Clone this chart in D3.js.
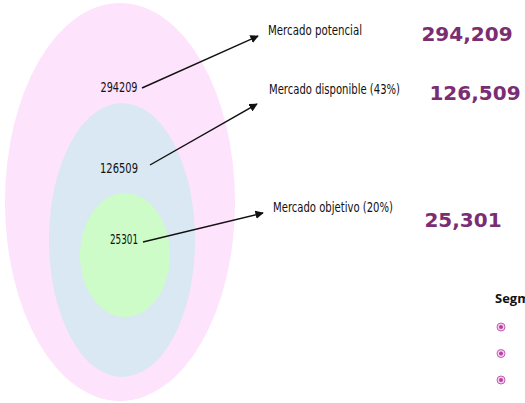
<!DOCTYPE html>
<html>
<head>
<meta charset="utf-8">
<script src="https://cdn.jsdelivr.net/npm/d3@7"></script>
<style>
  body { margin: 0; background: #fff; }
  svg { display: block; }
</style>
</head>
<body>
<svg id="chart"></svg>
<script>
const width = 525;
const height = 403;

// data
const levels = ["Mercado potencial", "Mercado disponible (43%)", "Mercado objetivo (20%)"];
const values = [294209, 126509, 25301];
const bulletCount = 3;
const sideTitle = "Segmento";

// layout (ellipses from outer to inner)
const rings = [
    {cx: 120, cy: 202, rx: 115, ry: 199, fill: "#fde3fc"},
    {cx: 122, cy: 240, rx: 73, ry: 137, fill: "#d9e8f2"},
    {cx: 125, cy: 255, rx: 45, ry: 62, fill: "#cdfcc8"}
];
const innerLabelPos = [[119, 87], [119, 168], [124, 239]];
const innerLen = [37, 38, 28];
const arrowFrom = [[142, 88], [150, 165], [143, 242]];
const arrowTo = [[258, 36], [257, 104], [263, 213]];
const labelPos = [[268, 30], [269, 89], [273, 207]];
const labelLen = [94, 131, 120];
const bigPos = [[467, 34], [475, 93], [463, 220]];

const svg = d3.select("#chart").attr("width", width).attr("height", height);

svg.append("defs").append("marker")
    .attr("id", "head")
    .attr("viewBox", "0 0 10 10")
    .attr("refX", 9).attr("refY", 5)
    .attr("markerWidth", 6).attr("markerHeight", 6)
    .attr("orient", "auto")
    .append("path")
    .attr("d", "M0,0L10,5L0,10z")
    .attr("fill", "#111");

svg.selectAll(".ring")
    .data(rings)
    .join("ellipse")
    .attr("class", "ring")
    .attr("cx", d => d.cx).attr("cy", d => d.cy)
    .attr("rx", d => d.rx).attr("ry", d => d.ry)
    .attr("fill", d => d.fill);

svg.selectAll(".inner")
    .data(values)
    .join("text")
    .attr("class", "inner")
    .attr("x", (d, i) => innerLabelPos[i][0] - innerLen[i] / 2)
    .attr("y", (d, i) => innerLabelPos[i][1])
    .attr("dy", "0.35em")
    .attr("font-family", "Liberation Sans Narrow, DejaVu Sans Condensed, sans-serif")
    .attr("font-size", 14)
    .attr("textLength", (d, i) => innerLen[i])
    .attr("lengthAdjust", "spacingAndGlyphs")
    .attr("fill", "#111")
    .text(d => d);

svg.selectAll(".arrow")
    .data(values)
    .join("line")
    .attr("class", "arrow")
    .attr("x1", (d, i) => arrowFrom[i][0]).attr("y1", (d, i) => arrowFrom[i][1])
    .attr("x2", (d, i) => arrowTo[i][0]).attr("y2", (d, i) => arrowTo[i][1])
    .attr("stroke", "#111")
    .attr("stroke-width", 1.4)
    .attr("marker-end", "url(#head)");

svg.selectAll(".label")
    .data(levels)
    .join("text")
    .attr("class", "label")
    .attr("x", (d, i) => labelPos[i][0])
    .attr("y", (d, i) => labelPos[i][1])
    .attr("dy", "0.35em")
    .attr("font-family", "Liberation Sans Narrow, DejaVu Sans Condensed, sans-serif")
    .attr("font-size", 14)
    .attr("textLength", (d, i) => labelLen[i])
    .attr("lengthAdjust", "spacingAndGlyphs")
    .attr("fill", "#111")
    .text(d => d);

const fmt = d3.format(",");
svg.selectAll(".big")
    .data(values)
    .join("text")
    .attr("class", "big")
    .attr("x", (d, i) => bigPos[i][0])
    .attr("y", (d, i) => bigPos[i][1])
    .attr("dy", "0.35em")
    .attr("text-anchor", "middle")
    .attr("font-family", "DejaVu Sans, Verdana, sans-serif")
    .attr("font-weight", "bold")
    .attr("font-size", 20)
    .attr("fill", "#7b2d73")
    .text(d => fmt(d));

// side panel, cut off by the right edge as in the original
svg.append("text")
    .attr("x", 495).attr("y", 303)
    .attr("font-family", "Open Sans, Noto Sans, sans-serif")
    .attr("font-weight", "bold")
    .attr("font-size", 13)
    .attr("fill", "#111")
    .text(sideTitle);

const bullets = svg.selectAll(".bullet")
    .data(d3.range(bulletCount))
    .join("g")
    .attr("class", "bullet")
    .attr("transform", i => `translate(501,${327 + i * 26.5})`);
bullets.append("circle").attr("r", 4).attr("fill", "#f3d3ee").attr("stroke", "#c958b8").attr("stroke-width", 1);
bullets.append("circle").attr("r", 2).attr("fill", "#b8409f");
</script>
</body>
</html>
